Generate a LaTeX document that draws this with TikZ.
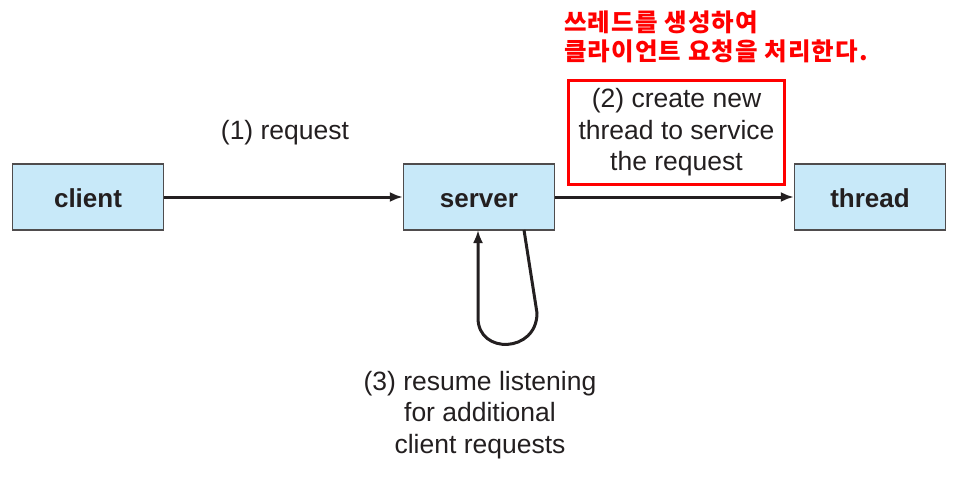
\documentclass[tikz,border=0pt]{standalone}
\usepackage{fontspec}
\setmainfont{Liberation Sans}
\newfontfamily\kofont[LetterSpace=4.5]{Noto Sans CJK KR}
\usetikzlibrary{positioning,arrows.meta}
\definecolor{boxblue}{RGB}{200,233,249}
\definecolor{ink}{RGB}{35,31,32}
\definecolor{notered}{RGB}{255,0,0}

\begin{document}
\begin{tikzpicture}[x=1pt, y=-1pt, >={Latex[length=13pt,width=10pt]}]
		\useasboundingbox (0,0) rectangle (954,479);
		\begin{scope}[every node/.style={rectangle, draw=ink!80, line width=1.3pt, fill=boxblue,
				minimum width=151pt, minimum height=66pt, text height=21pt, text depth=0pt,
				text=ink, font=\fontsize{26}{28}\selectfont\bfseries}]
			\node (client) at (88,197) {client};
			\node (server) at (479,197) {server};
			\node (thread) at (870,197) {thread};
		\end{scope}
		\begin{scope}[every node/.style={align=center, text=ink, font=\fontsize{26.5}{31.5}\selectfont}]
			\node (lbl1) at (285,133) {(1) request};
			\node (lbl2) [draw=notered, line width=3.5pt, minimum width=216pt, minimum height=104pt,
				inner sep=0pt] at (676.5,132.5) {(2) create new\\thread to service\\the request};
			\node (lbl3) at (480,415) {(3) resume listening\\for additional\\client requests};
		\end{scope}
		\node (ko) [anchor=west, align=left, text=notered, inner sep=0pt,
			font=\kofont\bfseries\fontsize{24.5}{28.5}\selectfont] at (564,37)
			{쓰레드를 생성하여\\클라이언트 요청을 처리한다.};
		% loop under the server
		\coordinate (loopstart) at (524,230);
		\coordinate (loopa) at (537,313);
		\coordinate (loopb) at (478,318);
		\coordinate (loopend) at (478,230);
		\begin{scope}[every path/.style={draw=ink, line width=3pt, ->}]
			\path (client) edge (server);
			\path (server) edge (thread);
			\draw (loopstart) -- (loopa) .. controls (537,353) and (478,355) .. (loopb) -- (loopend);
		\end{scope}
	\end{tikzpicture}
\end{document}
